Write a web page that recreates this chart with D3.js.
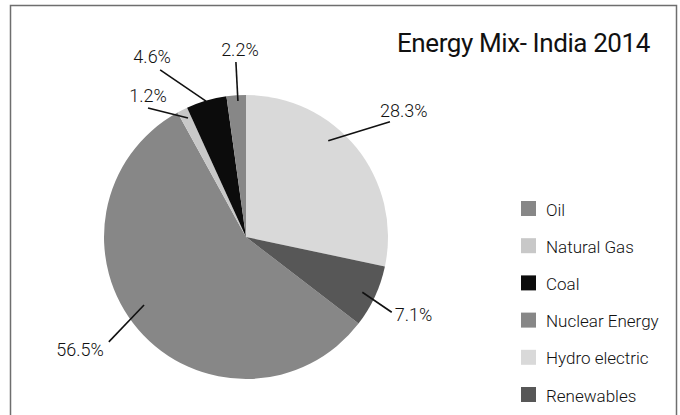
<!DOCTYPE html>
<html>
<head>
<meta charset="utf-8">
<script src="https://cdn.jsdelivr.net/npm/d3@7"></script>
<style>
  html, body { margin: 0; padding: 0; background: #fff; }
  svg { display: block; }
  text { font-family: Roboto, "Open Sans", sans-serif; fill: #1c1c1c; }
</style>
</head>
<body>
<script>
// Energy mix, India 2014 (share of primary energy, %)
const sources = ["Oil", "Natural Gas", "Coal", "Nuclear Energy", "Hydro electric", "Renewables"];
const shares  = [56.5, 1.2, 4.6, 2.2, 28.3, 7.1];
const title   = "Energy Mix- India 2014";

const colors = ["#878787", "#c8c8c8", "#0c0c0c", "#878787", "#d9d9d9", "#575757"];

// Leader line geometry per slice: inner/outer points in polar form
// (degrees clockwise from 12 o'clock, radius as a fraction of the pie radius)
// plus the label's anchor and offset from the outer point.
const leaderLayout = [
  { inA: 236.3, inR: 0.863, outA: 232.6, outR: 1.216, anchor: "end",    dx: -5, dy: 14 },
  { inA: 334.0, inR: 0.932, outA: 322.8, outR: 1.141, anchor: "middle", dx: 0,  dy: -6 },
  { inA: 343.6, inR: 0.998, outA: 332.8, outR: 1.323, anchor: "middle", dx: -8, dy: -7 },
  { inA: 356.6, inR: 0.960, outA: 356.7, outR: 1.234, anchor: "middle", dx: 4,  dy: -6 },
  { inA: 40.5,  inR: 0.892, outA: 51.3,  outR: 1.299, anchor: "start",  dx: -10, dy: -5 },
  { inA: 115.4, inR: 0.907, outA: 117.3, outR: 1.155, anchor: "start",  dx: 3,  dy: 9 }
];

const W = 680, H = 415;
const cx = 246, cy = 237, R = 142;

const svg = d3.select("body").append("svg")
  .attr("width", W).attr("height", H);

// frame (open at the bottom edge of the view)
svg.append("rect")
  .attr("x", 10.5).attr("y", 5.5)
  .attr("width", 666).attr("height", H + 20)
  .attr("fill", "none")
  .attr("stroke", "#6e6e6e")
  .attr("stroke-width", 1.5);

svg.append("text")
  .attr("x", 650).attr("y", 52)
  .attr("text-anchor", "end")
  .style("font-size", "26px")
  .style("font-weight", 400)
  .style("letter-spacing", "-0.4px")
  .style("fill", "#111")
  .text(title);

const data = sources.map((s, i) => ({ source: s, value: shares[i], color: colors[i], layout: leaderLayout[i] }));

// Hydro electric starts at 12 o'clock; everything before it wraps round counter-clockwise
const total = d3.sum(shares);
const before = d3.sum(shares.slice(0, 4));
const start = -before / total * 2 * Math.PI;

const pie = d3.pie()
  .sort(null)
  .value(d => d.value)
  .startAngle(start)
  .endAngle(start + 2 * Math.PI);

const arc = d3.arc().innerRadius(0).outerRadius(R);

const g = svg.append("g").attr("transform", `translate(${cx},${cy})`);

const arcs = pie(data);

g.selectAll("path.slice")
  .data(arcs)
  .join("path")
  .attr("class", "slice")
  .attr("d", arc)
  .attr("fill", d => d.data.color);

const polar = (deg, frac) => {
  const a = deg * Math.PI / 180;
  return [Math.sin(a) * R * frac, -Math.cos(a) * R * frac];
};

const fmt = v => v.toFixed(1) + "%";

const lab = g.selectAll("g.lab")
  .data(arcs)
  .join("g")
  .attr("class", "lab");

lab.append("line")
  .attr("x1", d => polar(d.data.layout.inA, d.data.layout.inR)[0])
  .attr("y1", d => polar(d.data.layout.inA, d.data.layout.inR)[1])
  .attr("x2", d => polar(d.data.layout.outA, d.data.layout.outR)[0])
  .attr("y2", d => polar(d.data.layout.outA, d.data.layout.outR)[1])
  .attr("stroke", "#111")
  .attr("stroke-width", 1.6);

lab.append("text")
  .attr("x", d => polar(d.data.layout.outA, d.data.layout.outR)[0] + d.data.layout.dx)
  .attr("y", d => polar(d.data.layout.outA, d.data.layout.outR)[1] + d.data.layout.dy)
  .attr("text-anchor", d => d.data.layout.anchor)
  .style("font-size", "18px")
  .style("font-weight", 300)
  .style("fill", "#111")
  .text(d => fmt(d.data.value));

// legend
const legend = svg.append("g").attr("transform", "translate(521,201)");
const row = legend.selectAll("g")
  .data(data)
  .join("g")
  .attr("transform", (d, i) => `translate(0,${i * 37.2})`);

row.append("rect")
  .attr("width", 15).attr("height", 15)
  .attr("fill", d => d.color);

row.append("text")
  .attr("x", 25).attr("y", 14.5)
  .style("font-size", "17px")
  .style("font-weight", 300)
  .style("fill", "#111")
  .text(d => d.source);
</script>
</body>
</html>
